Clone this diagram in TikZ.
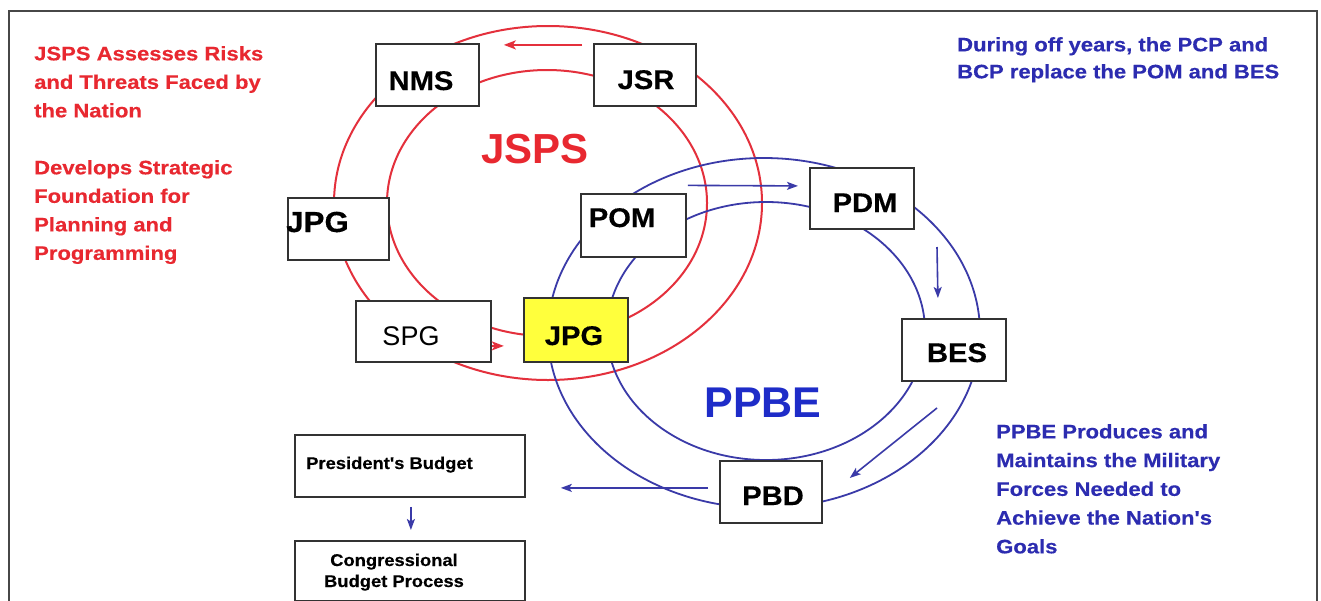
\documentclass[tikz,border=0pt]{standalone}
\usepackage{fontspec}
\setmainfont{Liberation Sans}
\newfontfamily\widefont[FakeStretch=1.13, BoldFeatures={FakeBold=0.4}]{Liberation Sans}
\newfontfamily\medfont[FakeStretch=1.08, BoldFeatures={FakeBold=0.4}]{Liberation Sans}
\usetikzlibrary{arrows.meta,calc}
\definecolor{jred}{RGB}{232,40,48}
\definecolor{jredline}{RGB}{228,48,60}
\definecolor{pblue}{RGB}{44,44,176}
\definecolor{pblueline}{RGB}{58,58,168}
\definecolor{pbig}{RGB}{30,44,200}
\definecolor{boxgray}{RGB}{50,50,50}
\definecolor{jyellow}{RGB}{255,255,60}
\tikzset{
  redring/.style={draw=jredline, line width=2pt},
  bluering/.style={draw=pblueline, line width=1.8pt},
  boxst/.style={draw=boxgray, line width=1.8pt, fill=white, inner sep=0pt, anchor=north west},
  lbl/.style={inner sep=0pt, anchor=base, font=\medfont\bfseries\fontsize{27}{32}\selectfont},
  smalllbl/.style={inner sep=0pt, anchor=base, font=\medfont\bfseries\fontsize{17}{21}\selectfont, align=center},
  redtxt/.style={inner sep=0pt, anchor=north west, align=left, text=jred, font=\widefont\bfseries\fontsize{19.5}{28.5}\selectfont},
  bluetxt/.style={inner sep=0pt, anchor=north west, align=left, text=pblue, font=\widefont\bfseries\fontsize{19.5}{28.5}\selectfont},
  redarrow/.style={draw=jredline, line width=2pt, -{Stealth[length=12pt,width=9pt,inset=3pt]}},
  bluearrow/.style={draw=pblueline, line width=1.6pt, -{Stealth[length=11pt,width=8pt,inset=2.5pt]}},
}
\begin{document}
\begin{tikzpicture}[x=1pt,y=-1pt]
\useasboundingbox (0,0) rectangle (1321,600);
\clip (0,0) rectangle (1321,600);
\fill[white] (0,0) rectangle (1321,600);
\draw[draw=boxgray!90, line width=2pt] (9,11) rectangle (1317,640);

% rings
\draw[redring] (548,203) ellipse [x radius=214pt, y radius=177pt];
\draw[redring] (547,203) ellipse [x radius=160pt, y radius=133pt];
\draw[bluering] (764,333) ellipse [x radius=216pt, y radius=175pt];
\draw[bluering] (766,331) ellipse [x radius=159pt, y radius=129pt];

% big labels
\node[inner sep=0pt, anchor=base, text=jred, font=\bfseries\fontsize{42}{48}\selectfont] (jsps) at (535,163) {JSPS};
\node[inner sep=0pt, anchor=base, text=pbig, font=\bfseries\fontsize{43}{48}\selectfont] (ppbe) at (763,417) {PPBE};

% boxes
\node[boxst, minimum width=103pt, minimum height=62pt] (nms) at (375,43) {};
\node[lbl] (tnms) at (421,90) {NMS};
\node[boxst, minimum width=102pt, minimum height=62pt] (jsr) at (593,43) {};
\node[lbl] (tjsr) at (646,89) {JSR};
\node[boxst, minimum width=101pt, minimum height=62pt] (jpgl) at (287,197) {};
\node[inner sep=0pt, anchor=base west, font=\medfont\bfseries\fontsize{29}{32}\selectfont] (tjpgl) at (286,232) {JPG};
\node[boxst, minimum width=105pt, minimum height=63pt] (pom) at (580,193) {};
\node[lbl] (tpom) at (622,227) {POM};
\node[boxst, minimum width=104pt, minimum height=61pt] (pdm) at (809,167) {};
\node[lbl] (tpdm) at (865,212) {PDM};
\node[boxst, minimum width=104pt, minimum height=62pt] (bes) at (901,318) {};
\node[lbl] (tbes) at (957,362) {BES};
\node[boxst, minimum width=102pt, minimum height=62pt] (pbd) at (719,460) {};
\node[lbl] (tpbd) at (773,505) {PBD};
\node[boxst, minimum width=135pt, minimum height=61pt] (spg) at (355,300) {};
\node[inner sep=0pt, anchor=base, font=\fontsize{27}{32}\selectfont] (tspg) at (411,345) {SPG};
\node[boxst, fill=jyellow, minimum width=104pt, minimum height=64pt] (jpgy) at (523,297) {};
\node[lbl] (tjpgy) at (574,345) {JPG};
\node[boxst, minimum width=230pt, minimum height=62pt] (pres) at (294,434) {};
\node[smalllbl, anchor=base west] (tpres) at (306,469) {President's Budget};
\node[boxst, minimum width=230pt, minimum height=60pt] (cong) at (294,540) {};
\node[smalllbl, anchor=base] (tcong) at (394,587) {Congressional\\Budget Process};

% texts
\node[redtxt] (risk) at (34,46) {JSPS Assesses Risks\\and Threats Faced by\\the Nation};
\node[redtxt] (found) at (34,160) {Develops Strategic\\Foundation for\\Planning and\\Programming};
\node[bluetxt, font=\widefont\bfseries\fontsize{19.5}{27}\selectfont] (offyr) at (957,37) {During off years, the PCP and\\BCP replace the POM and BES};
\node[bluetxt, font=\widefont\bfseries\fontsize{19.5}{28.75}\selectfont] (prod) at (996,424) {PPBE Produces and\\Maintains the Military\\Forces Needed to\\Achieve the Nation's\\Goals};

% arrows
\coordinate (ra1) at ($(jsr.west)+(-11,-30)$);
\coordinate (ra2) at ($(nms.east)+(24,-30)$);
\draw[redarrow] (ra1) -- (ra2);
\coordinate (rb1) at ($(spg.east)+(0,14.5)$);
\coordinate (rb2) at ($(spg.east)+(12,14.5)$);
\draw[redarrow] (rb1) -- (rb2);

\coordinate (b1s) at ($(pom.east)+(1,-40)$);
\coordinate (b1e) at ($(pdm.west)+(-11,-12.5)$);
\draw[bluearrow] (b1s) -- (b1e);
\coordinate (b2s) at (937,247);
\coordinate (b2e) at ($(bes.north)+(-16,-20)$);
\draw[bluearrow] (b2s) -- (b2e);
\coordinate (b3s) at (937,408);
\coordinate (b3e) at ($(pbd.east)+(27,-14)$);
\draw[bluearrow] (b3s) -- (b3e);
\coordinate (b4s) at ($(pbd.west)+(-11,-4)$);
\coordinate (b4e) at ($(pres.east)+(35,22)$);
\draw[bluearrow] (b4s) -- (b4e);
\coordinate (b5s) at ($(pres.south)+(1,9)$);
\coordinate (b5e) at ($(cong.north)+(1,-10)$);
\draw[bluearrow] (b5s) -- (b5e);
\end{tikzpicture}
\end{document}
